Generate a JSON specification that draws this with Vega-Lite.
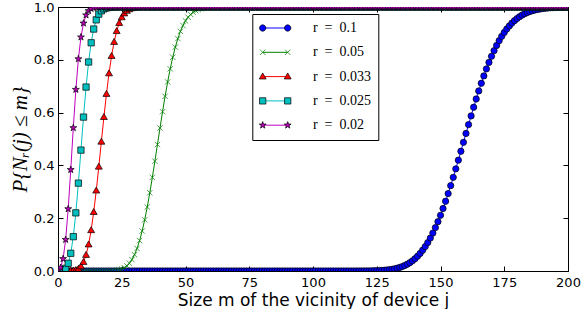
{
"$schema": "https://vega.github.io/schema/vega-lite/v6.json",
"width": 510, "height": 264,
"autosize": "none",
"padding": {"left": 58, "top": 7, "right": 13, "bottom": 38},
"background": "white",
"view": {"stroke": null},
"data": {"values": [
{"m":0,"a":0,"b":0,"c":0,"d":0,"e":0.0017},
{"m":1,"a":0,"b":0,"c":0,"d":0.0005,"e":0.0123},
{"m":2,"a":0,"b":0,"c":0,"d":0.0028,"e":0.0463},
{"m":3,"a":0,"b":0,"c":0,"d":0.0103,"e":0.1189},
{"m":4,"a":0,"b":0,"c":0.0001,"d":0.0293,"e":0.2351},
{"m":5,"a":0,"b":0,"c":0.0004,"d":0.0671,"e":0.3837},
{"m":6,"a":0,"b":0,"c":0.0012,"d":0.1301,"e":0.5423},
{"m":7,"a":0,"b":0,"c":0.0033,"d":0.2202,"e":0.6873},
{"m":8,"a":0,"b":0,"c":0.008,"d":0.3328,"e":0.8033},
{"m":9,"a":0,"b":0,"c":0.0173,"d":0.4579,"e":0.8858},
{"m":10,"a":0,"b":0,"c":0.0338,"d":0.583,"e":0.9386},
{"m":11,"a":0,"b":0,"c":0.0605,"d":0.6968,"e":0.9693},
{"m":12,"a":0,"b":0,"c":0.1001,"d":0.7916,"e":0.9857},
{"m":13,"a":0,"b":0,"c":0.1542,"d":0.8645,"e":0.9937},
{"m":14,"a":0,"b":0,"c":0.2229,"d":0.9165,"e":0.9974},
{"m":15,"a":0,"b":0,"c":0.3043,"d":0.9513,"e":0.999},
{"m":16,"a":0,"b":0,"c":0.3948,"d":0.973,"e":0.9996},
{"m":17,"a":0,"b":0,"c":0.4894,"d":0.9857,"e":0.9999},
{"m":18,"a":0,"b":0.0001,"c":0.5829,"d":0.9928,"e":1},
{"m":19,"a":0,"b":0.0002,"c":0.6704,"d":0.9965,"e":1},
{"m":20,"a":0,"b":0.0004,"c":0.7481,"d":0.9984,"e":1},
{"m":21,"a":0,"b":0.0007,"c":0.814,"d":0.9993,"e":1},
{"m":22,"a":0,"b":0.0014,"c":0.8672,"d":0.9997,"e":1},
{"m":23,"a":0,"b":0.0026,"c":0.9083,"d":0.9999,"e":1},
{"m":24,"a":0,"b":0.0045,"c":0.9388,"d":1,"e":1},
{"m":25,"a":0,"b":0.0076,"c":0.9605,"d":1,"e":1},
{"m":26,"a":0,"b":0.0123,"c":0.9753,"d":1,"e":1},
{"m":27,"a":0,"b":0.0193,"c":0.9851,"d":1,"e":1},
{"m":28,"a":0,"b":0.0294,"c":0.9913,"d":1,"e":1},
{"m":29,"a":0,"b":0.0432,"c":0.9951,"d":1,"e":1},
{"m":30,"a":0,"b":0.0617,"c":0.9973,"d":1,"e":1},
{"m":31,"a":0,"b":0.0855,"c":0.9986,"d":1,"e":1},
{"m":32,"a":0,"b":0.1153,"c":0.9993,"d":1,"e":1},
{"m":33,"a":0,"b":0.1514,"c":0.9997,"d":1,"e":1},
{"m":34,"a":0,"b":0.1939,"c":0.9999,"d":1,"e":1},
{"m":35,"a":0,"b":0.2424,"c":1,"d":1,"e":1},
{"m":36,"a":0,"b":0.2963,"c":1,"d":1,"e":1},
{"m":37,"a":0,"b":0.3546,"c":1,"d":1,"e":1},
{"m":38,"a":0,"b":0.416,"c":1,"d":1,"e":1},
{"m":39,"a":0,"b":0.479,"c":1,"d":1,"e":1},
{"m":40,"a":0,"b":0.5419,"c":1,"d":1,"e":1},
{"m":41,"a":0,"b":0.6033,"c":1,"d":1,"e":1},
{"m":42,"a":0,"b":0.6618,"c":1,"d":1,"e":1},
{"m":43,"a":0,"b":0.7162,"c":1,"d":1,"e":1},
{"m":44,"a":0,"b":0.7657,"c":1,"d":1,"e":1},
{"m":45,"a":0,"b":0.8096,"c":1,"d":1,"e":1},
{"m":46,"a":0,"b":0.8479,"c":1,"d":1,"e":1},
{"m":47,"a":0,"b":0.8804,"c":1,"d":1,"e":1},
{"m":48,"a":0,"b":0.9075,"c":1,"d":1,"e":1},
{"m":49,"a":0,"b":0.9297,"c":1,"d":1,"e":1},
{"m":50,"a":0,"b":0.9474,"c":1,"d":1,"e":1},
{"m":51,"a":0,"b":0.9613,"c":1,"d":1,"e":1},
{"m":52,"a":0,"b":0.9719,"c":1,"d":1,"e":1},
{"m":53,"a":0,"b":0.98,"c":1,"d":1,"e":1},
{"m":54,"a":0,"b":0.986,"c":1,"d":1,"e":1},
{"m":55,"a":0,"b":0.9903,"c":1,"d":1,"e":1},
{"m":56,"a":0,"b":0.9934,"c":1,"d":1,"e":1},
{"m":57,"a":0,"b":0.9956,"c":1,"d":1,"e":1},
{"m":58,"a":0,"b":0.9971,"c":1,"d":1,"e":1},
{"m":59,"a":0,"b":0.9981,"c":1,"d":1,"e":1},
{"m":60,"a":0,"b":0.9988,"c":1,"d":1,"e":1},
{"m":61,"a":0,"b":0.9992,"c":1,"d":1,"e":1},
{"m":62,"a":0,"b":0.9995,"c":1,"d":1,"e":1},
{"m":63,"a":0,"b":0.9997,"c":1,"d":1,"e":1},
{"m":64,"a":0,"b":0.9998,"c":1,"d":1,"e":1},
{"m":65,"a":0,"b":0.9999,"c":1,"d":1,"e":1},
{"m":66,"a":0,"b":1,"c":1,"d":1,"e":1},
{"m":67,"a":0,"b":1,"c":1,"d":1,"e":1},
{"m":68,"a":0,"b":1,"c":1,"d":1,"e":1},
{"m":69,"a":0,"b":1,"c":1,"d":1,"e":1},
{"m":70,"a":0,"b":1,"c":1,"d":1,"e":1},
{"m":71,"a":0,"b":1,"c":1,"d":1,"e":1},
{"m":72,"a":0,"b":1,"c":1,"d":1,"e":1},
{"m":73,"a":0,"b":1,"c":1,"d":1,"e":1},
{"m":74,"a":0,"b":1,"c":1,"d":1,"e":1},
{"m":75,"a":0,"b":1,"c":1,"d":1,"e":1},
{"m":76,"a":0,"b":1,"c":1,"d":1,"e":1},
{"m":77,"a":0,"b":1,"c":1,"d":1,"e":1},
{"m":78,"a":0,"b":1,"c":1,"d":1,"e":1},
{"m":79,"a":0,"b":1,"c":1,"d":1,"e":1},
{"m":80,"a":0,"b":1,"c":1,"d":1,"e":1},
{"m":81,"a":0,"b":1,"c":1,"d":1,"e":1},
{"m":82,"a":0,"b":1,"c":1,"d":1,"e":1},
{"m":83,"a":0,"b":1,"c":1,"d":1,"e":1},
{"m":84,"a":0,"b":1,"c":1,"d":1,"e":1},
{"m":85,"a":0,"b":1,"c":1,"d":1,"e":1},
{"m":86,"a":0,"b":1,"c":1,"d":1,"e":1},
{"m":87,"a":0,"b":1,"c":1,"d":1,"e":1},
{"m":88,"a":0,"b":1,"c":1,"d":1,"e":1},
{"m":89,"a":0,"b":1,"c":1,"d":1,"e":1},
{"m":90,"a":0,"b":1,"c":1,"d":1,"e":1},
{"m":91,"a":0,"b":1,"c":1,"d":1,"e":1},
{"m":92,"a":0,"b":1,"c":1,"d":1,"e":1},
{"m":93,"a":0,"b":1,"c":1,"d":1,"e":1},
{"m":94,"a":0,"b":1,"c":1,"d":1,"e":1},
{"m":95,"a":0,"b":1,"c":1,"d":1,"e":1},
{"m":96,"a":0,"b":1,"c":1,"d":1,"e":1},
{"m":97,"a":0,"b":1,"c":1,"d":1,"e":1},
{"m":98,"a":0,"b":1,"c":1,"d":1,"e":1},
{"m":99,"a":0,"b":1,"c":1,"d":1,"e":1},
{"m":100,"a":0,"b":1,"c":1,"d":1,"e":1},
{"m":101,"a":0,"b":1,"c":1,"d":1,"e":1},
{"m":102,"a":0,"b":1,"c":1,"d":1,"e":1},
{"m":103,"a":0,"b":1,"c":1,"d":1,"e":1},
{"m":104,"a":0,"b":1,"c":1,"d":1,"e":1},
{"m":105,"a":0,"b":1,"c":1,"d":1,"e":1},
{"m":106,"a":0,"b":1,"c":1,"d":1,"e":1},
{"m":107,"a":0,"b":1,"c":1,"d":1,"e":1},
{"m":108,"a":0,"b":1,"c":1,"d":1,"e":1},
{"m":109,"a":0,"b":1,"c":1,"d":1,"e":1},
{"m":110,"a":0,"b":1,"c":1,"d":1,"e":1},
{"m":111,"a":0,"b":1,"c":1,"d":1,"e":1},
{"m":112,"a":0,"b":1,"c":1,"d":1,"e":1},
{"m":113,"a":0,"b":1,"c":1,"d":1,"e":1},
{"m":114,"a":0,"b":1,"c":1,"d":1,"e":1},
{"m":115,"a":0,"b":1,"c":1,"d":1,"e":1},
{"m":116,"a":0,"b":1,"c":1,"d":1,"e":1},
{"m":117,"a":0.0001,"b":1,"c":1,"d":1,"e":1},
{"m":118,"a":0.0001,"b":1,"c":1,"d":1,"e":1},
{"m":119,"a":0.0002,"b":1,"c":1,"d":1,"e":1},
{"m":120,"a":0.0002,"b":1,"c":1,"d":1,"e":1},
{"m":121,"a":0.0003,"b":1,"c":1,"d":1,"e":1},
{"m":122,"a":0.0005,"b":1,"c":1,"d":1,"e":1},
{"m":123,"a":0.0007,"b":1,"c":1,"d":1,"e":1},
{"m":124,"a":0.0009,"b":1,"c":1,"d":1,"e":1},
{"m":125,"a":0.0012,"b":1,"c":1,"d":1,"e":1},
{"m":126,"a":0.0016,"b":1,"c":1,"d":1,"e":1},
{"m":127,"a":0.0022,"b":1,"c":1,"d":1,"e":1},
{"m":128,"a":0.0029,"b":1,"c":1,"d":1,"e":1},
{"m":129,"a":0.0038,"b":1,"c":1,"d":1,"e":1},
{"m":130,"a":0.005,"b":1,"c":1,"d":1,"e":1},
{"m":131,"a":0.0064,"b":1,"c":1,"d":1,"e":1},
{"m":132,"a":0.0083,"b":1,"c":1,"d":1,"e":1},
{"m":133,"a":0.0106,"b":1,"c":1,"d":1,"e":1},
{"m":134,"a":0.0134,"b":1,"c":1,"d":1,"e":1},
{"m":135,"a":0.0168,"b":1,"c":1,"d":1,"e":1},
{"m":136,"a":0.0209,"b":1,"c":1,"d":1,"e":1},
{"m":137,"a":0.0258,"b":1,"c":1,"d":1,"e":1},
{"m":138,"a":0.0317,"b":1,"c":1,"d":1,"e":1},
{"m":139,"a":0.0386,"b":1,"c":1,"d":1,"e":1},
{"m":140,"a":0.0466,"b":1,"c":1,"d":1,"e":1},
{"m":141,"a":0.0559,"b":1,"c":1,"d":1,"e":1},
{"m":142,"a":0.0665,"b":1,"c":1,"d":1,"e":1},
{"m":143,"a":0.0787,"b":1,"c":1,"d":1,"e":1},
{"m":144,"a":0.0924,"b":1,"c":1,"d":1,"e":1},
{"m":145,"a":0.1077,"b":1,"c":1,"d":1,"e":1},
{"m":146,"a":0.1247,"b":1,"c":1,"d":1,"e":1},
{"m":147,"a":0.1436,"b":1,"c":1,"d":1,"e":1},
{"m":148,"a":0.1644,"b":1,"c":1,"d":1,"e":1},
{"m":149,"a":0.1869,"b":1,"c":1,"d":1,"e":1},
{"m":150,"a":0.211,"b":1,"c":1,"d":1,"e":1},
{"m":151,"a":0.2368,"b":1,"c":1,"d":1,"e":1},
{"m":152,"a":0.2642,"b":1,"c":1,"d":1,"e":1},
{"m":153,"a":0.2933,"b":1,"c":1,"d":1,"e":1},
{"m":154,"a":0.3234,"b":1,"c":1,"d":1,"e":1},
{"m":155,"a":0.3547,"b":1,"c":1,"d":1,"e":1},
{"m":156,"a":0.3869,"b":1,"c":1,"d":1,"e":1},
{"m":157,"a":0.4198,"b":1,"c":1,"d":1,"e":1},
{"m":158,"a":0.4536,"b":1,"c":1,"d":1,"e":1},
{"m":159,"a":0.4873,"b":1,"c":1,"d":1,"e":1},
{"m":160,"a":0.521,"b":1,"c":1,"d":1,"e":1},
{"m":161,"a":0.5545,"b":1,"c":1,"d":1,"e":1},
{"m":162,"a":0.5875,"b":1,"c":1,"d":1,"e":1},
{"m":163,"a":0.6202,"b":1,"c":1,"d":1,"e":1},
{"m":164,"a":0.6516,"b":1,"c":1,"d":1,"e":1},
{"m":165,"a":0.682,"b":1,"c":1,"d":1,"e":1},
{"m":166,"a":0.7111,"b":1,"c":1,"d":1,"e":1},
{"m":167,"a":0.7389,"b":1,"c":1,"d":1,"e":1},
{"m":168,"a":0.7654,"b":1,"c":1,"d":1,"e":1},
{"m":169,"a":0.7901,"b":1,"c":1,"d":1,"e":1},
{"m":170,"a":0.8131,"b":1,"c":1,"d":1,"e":1},
{"m":171,"a":0.8345,"b":1,"c":1,"d":1,"e":1},
{"m":172,"a":0.8542,"b":1,"c":1,"d":1,"e":1},
{"m":173,"a":0.8724,"b":1,"c":1,"d":1,"e":1},
{"m":174,"a":0.8888,"b":1,"c":1,"d":1,"e":1},
{"m":175,"a":0.9035,"b":1,"c":1,"d":1,"e":1},
{"m":176,"a":0.9167,"b":1,"c":1,"d":1,"e":1},
{"m":177,"a":0.9285,"b":1,"c":1,"d":1,"e":1},
{"m":178,"a":0.939,"b":1,"c":1,"d":1,"e":1},
{"m":179,"a":0.9482,"b":1,"c":1,"d":1,"e":1},
{"m":180,"a":0.9562,"b":1,"c":1,"d":1,"e":1},
{"m":181,"a":0.9632,"b":1,"c":1,"d":1,"e":1},
{"m":182,"a":0.9693,"b":1,"c":1,"d":1,"e":1},
{"m":183,"a":0.9745,"b":1,"c":1,"d":1,"e":1},
{"m":184,"a":0.9789,"b":1,"c":1,"d":1,"e":1},
{"m":185,"a":0.9827,"b":1,"c":1,"d":1,"e":1},
{"m":186,"a":0.9859,"b":1,"c":1,"d":1,"e":1},
{"m":187,"a":0.9885,"b":1,"c":1,"d":1,"e":1},
{"m":188,"a":0.9907,"b":1,"c":1,"d":1,"e":1},
{"m":189,"a":0.9925,"b":1,"c":1,"d":1,"e":1},
{"m":190,"a":0.994,"b":1,"c":1,"d":1,"e":1},
{"m":191,"a":0.9952,"b":1,"c":1,"d":1,"e":1},
{"m":192,"a":0.9962,"b":1,"c":1,"d":1,"e":1},
{"m":193,"a":0.997,"b":1,"c":1,"d":1,"e":1},
{"m":194,"a":0.9977,"b":1,"c":1,"d":1,"e":1},
{"m":195,"a":0.9982,"b":1,"c":1,"d":1,"e":1},
{"m":196,"a":0.9986,"b":1,"c":1,"d":1,"e":1},
{"m":197,"a":0.9989,"b":1,"c":1,"d":1,"e":1},
{"m":198,"a":0.9992,"b":1,"c":1,"d":1,"e":1},
{"m":199,"a":0.9994,"b":1,"c":1,"d":1,"e":1},
{"m":200,"a":0.9995,"b":1,"c":1,"d":1,"e":1}
]},
"transform": [{"fold": ["a","b","c","d","e"], "as": ["key","v"]}],
"layer": [
{
"mark": {"type": "line", "strokeWidth": 1, "clip": true},
"encoding": {
"x": {"field": "m", "type": "quantitative", "scale": {"domain": [0,200], "nice": false, "zero": false},
 "axis": {"orient": "bottom", "values": [0,25,50,75,100,125,150,175,200], "grid": false, "domainColor": "black", "domainWidth": 1, "tickColor": "black", "tickWidth": 1, "tickSize": -5, "labelPadding": 10, "labelFont": "DejaVu Sans", "labelFontSize": 13, "labelColor": "black", "labelFlush": false, "labelOverlap": false, "title": "Size m of the vicinity of device j", "titleFont": "DejaVu Sans", "titleFontSize": 17, "titleFontWeight": "normal", "titleColor": "black", "titlePadding": 3}},
"y": {"field": "v", "type": "quantitative", "scale": {"domain": [0,1], "nice": false},
 "axis": {"orient": "left", "values": [0,0.2,0.4,0.6,0.8,1], "format": ".1f", "grid": false, "domainColor": "black", "domainWidth": 1, "tickColor": "black", "tickWidth": 1, "tickSize": -5, "labelPadding": 9, "labelFont": "DejaVu Sans", "labelFontSize": 13, "labelColor": "black", "labelFlush": false, "labelOverlap": false, "title": "P{Nᵣ(j) ≤ m}", "titleFont": "Liberation Serif", "titleFontStyle": "italic", "titleFontSize": 21, "titleFontWeight": "normal", "titleColor": "black", "titlePadding": 3}},
"color": {"field": "key", "type": "nominal", "scale": {"domain": ["a","b","c","d","e"], "range": ["#0000ff","#008000","#ff0000","#00bfbf","#bf00bf"]},
 "legend": {"title": null, "orient": "none", "legendX": 194.3, "legendY": 7, "padding": 7, "rowPadding": 10.3, "symbolType": "M-3.953,0L3.953,0", "symbolSize": 40, "symbolStrokeWidth": 1, "symbolOffset": 8.9, "labelOffset": 30.7, "labelFont": "Liberation Serif", "labelFontSize": 14, "labelColor": "black", "labelLimit": 300, "strokeColor": "black",
  "labelExpr": "datum.label == 'a' ? 'r\u2002=\u20020.1' : datum.label == 'b' ? 'r\u2002=\u20020.05' : datum.label == 'c' ? 'r\u2002=\u20020.033' : datum.label == 'd' ? 'r\u2002=\u20020.025' : 'r\u2002=\u20020.02'"}}
}
},
{
"mark": {"type": "point", "filled": true, "opacity": 1, "size": 40, "strokeWidth": 0.7, "clip": true},
"encoding": {
"x": {"field": "m", "type": "quantitative", "axis": {"orient": "top", "values": [0,25,50,75,100,125,150,175,200], "labels": false, "title": null, "grid": false, "domainColor": "black", "domainWidth": 1, "tickColor": "black", "tickWidth": 1, "tickSize": -5}},
"y": {"field": "v", "type": "quantitative", "axis": {"orient": "right", "values": [0,0.2,0.4,0.6,0.8,1], "labels": false, "title": null, "grid": false, "domainColor": "black", "domainWidth": 1, "tickColor": "black", "tickWidth": 1, "tickSize": -5}},
"fill": {"field": "key", "type": "nominal", "scale": {"domain": ["a","b","c","d","e"], "range": ["#0000ff","#008000","#ff0000","#00bfbf","#bf00bf"]}, "legend": null},
"stroke": {"field": "key", "type": "nominal", "scale": {"domain": ["a","b","c","d","e"], "range": ["black","#008000","black","black","black"]}, "legend": null},
"shape": {"field": "key", "type": "nominal", "scale": {"domain": ["a","b","c","d","e"], "range": ["circle","M-0.85,-0.85L0.85,0.85M-0.85,0.85L0.85,-0.85","M0,-1.15L1.1,0.75L-1.1,0.75Z","square","M0,-1.15L0.27,-0.37L1.09,-0.36L0.44,0.14L0.68,0.93L0,0.46L-0.68,0.93L-0.44,0.14L-1.09,-0.36L-0.27,-0.37Z"]}, "legend": null},
"order": {"field": "key", "type": "ordinal", "sort": "ascending"}
}
},
{
"transform": [{"filter": "datum.m < 0"}],
"mark": {"type": "point", "filled": true, "opacity": 1, "size": 40, "strokeWidth": 0.7},
"encoding": {
"x": {"field": "m", "type": "quantitative", "axis": null},
"y": {"field": "v", "type": "quantitative", "axis": null},
"fill": {"field": "key", "type": "nominal", "scale": {"domain": ["a","b","c","d","e"], "range": ["#0000ff","#008000","#ff0000","#00bfbf","#bf00bf"]},
 "legend": {"title": null, "orient": "none", "legendX": 194.3, "legendY": 7, "padding": 7, "rowPadding": 10.3, "symbolSize": 40, "symbolStrokeWidth": 0.7, "symbolOffset": 8.9, "labelOffset": 30.7, "labelFont": "Liberation Serif", "labelFontSize": 14, "labelOpacity": 0, "labelLimit": 300, "symbolOpacity": 1,
  "labelExpr": "datum.label == 'a' ? 'r\u2002=\u20020.1' : datum.label == 'b' ? 'r\u2002=\u20020.05' : datum.label == 'c' ? 'r\u2002=\u20020.033' : datum.label == 'd' ? 'r\u2002=\u20020.025' : 'r\u2002=\u20020.02'"}},
"stroke": {"field": "key", "type": "nominal", "scale": {"domain": ["a","b","c","d","e"], "range": ["black","#008000","black","black","black"]},
 "legend": {"title": null, "orient": "none", "legendX": 194.3, "legendY": 7, "padding": 7, "rowPadding": 10.3, "symbolSize": 40, "symbolStrokeWidth": 0.7, "symbolOffset": 8.9, "labelOffset": 30.7, "labelFont": "Liberation Serif", "labelFontSize": 14, "labelOpacity": 0, "labelLimit": 300, "symbolOpacity": 1,
  "labelExpr": "datum.label == 'a' ? 'r\u2002=\u20020.1' : datum.label == 'b' ? 'r\u2002=\u20020.05' : datum.label == 'c' ? 'r\u2002=\u20020.033' : datum.label == 'd' ? 'r\u2002=\u20020.025' : 'r\u2002=\u20020.02'"}},
"shape": {"field": "key", "type": "nominal", "scale": {"domain": ["a","b","c","d","e"], "range": [
 "M-4.953,0A1,1,0,1,1,-2.953,0A1,1,0,1,1,-4.953,0Z M2.953,0A1,1,0,1,1,4.953,0A1,1,0,1,1,2.953,0Z",
 "M-4.803,-0.85L-3.103,0.85M-4.803,0.85L-3.103,-0.85M3.103,-0.85L4.803,0.85M3.103,0.85L4.803,-0.85",
 "M-3.953,-1.15L-2.853,0.75L-5.053,0.75Z M3.953,-1.15L5.053,0.75L2.853,0.75Z",
 "M-4.953,-1H-2.953V1H-4.953Z M2.953,-1H4.953V1H2.953Z",
 "M-3.953,-1.15L-3.683,-0.37L-2.863,-0.36L-3.513,0.14L-3.273,0.93L-3.953,0.46L-4.633,0.93L-4.393,0.14L-5.043,-0.36L-4.223,-0.37Z M3.953,-1.15L4.223,-0.37L5.043,-0.36L4.393,0.14L4.633,0.93L3.953,0.46L3.273,0.93L3.513,0.14L2.863,-0.36L3.683,-0.37Z"]},
 "legend": {"title": null, "orient": "none", "legendX": 194.3, "legendY": 7, "padding": 7, "rowPadding": 10.3, "symbolSize": 40, "symbolStrokeWidth": 0.7, "symbolOffset": 8.9, "labelOffset": 30.7, "labelFont": "Liberation Serif", "labelFontSize": 14, "labelOpacity": 0, "labelLimit": 300, "symbolOpacity": 1,
  "labelExpr": "datum.label == 'a' ? 'r\u2002=\u20020.1' : datum.label == 'b' ? 'r\u2002=\u20020.05' : datum.label == 'c' ? 'r\u2002=\u20020.033' : datum.label == 'd' ? 'r\u2002=\u20020.025' : 'r\u2002=\u20020.02'"}}
}
}
],
"resolve": {
"scale": {"color": "independent", "fill": "independent", "stroke": "independent", "shape": "independent"},
"axis": {"x": "independent", "y": "independent"},
"legend": {"color": "independent", "fill": "independent", "stroke": "independent", "shape": "independent"}
}
}
